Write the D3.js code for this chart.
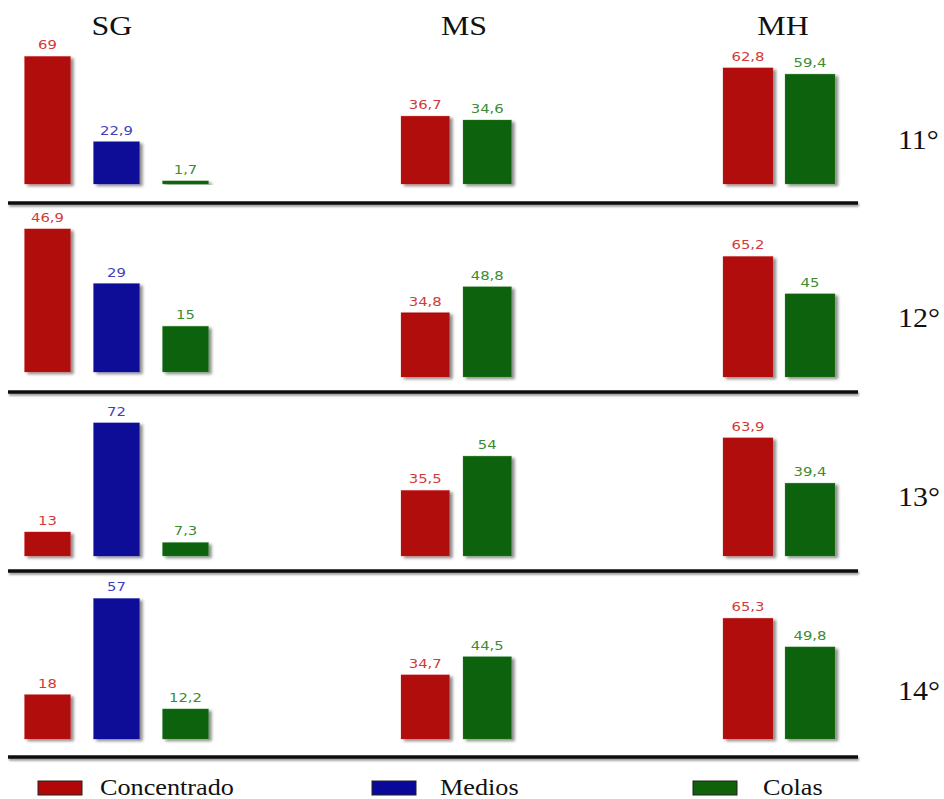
<!DOCTYPE html>
<html>
<head>
<meta charset="utf-8">
<script src="https://cdn.jsdelivr.net/npm/d3@7/dist/d3.min.js"></script>
<style>
  html, body { margin: 0; padding: 0; background: #fff; }
  svg { display: block; }
</style>
</head>
<body>
<svg id="chart" width="944" height="799"></svg>
<script>
// Grades (rows) and stream groups (columns)
const grades = ["11°", "12°", "13°", "14°"];
const groups = ["SG", "MS", "MH"];
const seriesNames = ["Concentrado", "Medios", "Colas"];

// Values per group, one entry per grade
const sgConcentrado = [69, 46.9, 13, 18];
const sgMedios      = [22.9, 29, 72, 57];
const sgColas       = [1.7, 15, 7.3, 12.2];
const msConcentrado = [36.7, 34.8, 35.5, 34.7];
const msColas       = [34.6, 48.8, 54, 44.5];
const mhConcentrado = [62.8, 65.2, 63.9, 65.3];
const mhColas       = [59.4, 45, 39.4, 49.8];

// Upper end of each small chart's value axis, per grade
const sgScaleMax = [80, 48.5, 80, 60];
const msScaleMax = [80, 80, 80, 80];
const mhScaleMax = [80, 80, 80, 80];

const colors = { Concentrado: "#b20707", Medios: "#0a0898", Colas: "#0f620a" };
const labelColors = { Concentrado: "#d23a3a", Medios: "#3f3fc0", Colas: "#3d8c34" };

const groupData = {
  SG: { series: { Concentrado: sgConcentrado, Medios: sgMedios, Colas: sgColas }, max: sgScaleMax },
  MS: { series: { Concentrado: msConcentrado, Colas: msColas }, max: msScaleMax },
  MH: { series: { Concentrado: mhConcentrado, Colas: mhColas }, max: mhScaleMax }
};

const svg = d3.select("#chart");

// Soft shadow used under bars and rules
const defs = svg.append("defs");
const shadow = defs.append("filter").attr("id", "shadow")
  .attr("x", "-20%").attr("y", "-20%").attr("width", "150%").attr("height", "150%");
shadow.append("feDropShadow").attr("dx", 3).attr("dy", 2).attr("stdDeviation", 1.6)
  .attr("flood-color", "#000").attr("flood-opacity", 0.45);
const ruleShadow = defs.append("filter").attr("id", "ruleShadow")
  .attr("x", "-5%").attr("y", "-100%").attr("width", "110%").attr("height", "400%");
ruleShadow.append("feDropShadow").attr("dx", 1).attr("dy", 2).attr("stdDeviation", 1.2)
  .attr("flood-color", "#000").attr("flood-opacity", 0.4);

// Layout
const plotHeight = 148;
const rowBase = [184, 377, 556, 739];
const baseShift = { SG: [0, -5, 0, 0], MS: [0, 0, 0, 0], MH: [0, 0, 0, 0] };
const ruleY = [203, 392, 571, 757];
const groupRange = { SG: [24.5, 208.5], MS: [401, 511.5], MH: [723, 835] };
const groupPadding = { SG: 0.333, MS: 0.218, MH: 0.194 };
const titleX = { SG: 112, MS: 464, MH: 783 };
const serif = "'Liberation Serif', 'Times New Roman', serif";
const sans = "Verdana, 'DejaVu Sans', sans-serif";
const stretch = 1.14;   // text is set slightly wide
const fmt = v => String(v).replace(".", ",");

// Column titles
svg.selectAll("text.group-title").data(groups).join("text")
  .attr("class", "group-title")
  .attr("transform", g => `translate(${titleX[g]},35) scale(${stretch},1)`)
  .attr("text-anchor", "middle")
  .attr("font-family", serif).attr("font-size", 28)
  .attr("fill", "#111")
  .text(g => g);

grades.forEach((grade, r) => {
  groups.forEach(g => {
    const gd = groupData[g];
    const keys = Object.keys(gd.series);
    const base = rowBase[r] + baseShift[g][r];
    const x = d3.scaleBand().domain(keys).range(groupRange[g])
      .paddingInner(groupPadding[g]).paddingOuter(0);
    const y = d3.scaleLinear().domain([0, gd.max[r]])
      .range([base, base - plotHeight]);
    const rows = keys.map(k => ({ key: k, value: gd.series[k][r] }));

    const panel = svg.append("g").attr("class", `panel ${g}-${r}`);
    panel.selectAll("rect").data(rows).join("rect")
      .attr("x", d => x(d.key))
      .attr("y", d => y(d.value))
      .attr("width", x.bandwidth())
      .attr("height", d => y(0) - y(d.value))
      .attr("fill", d => colors[d.key])
      .attr("stroke", d => labelColors[d.key])
      .attr("stroke-opacity", 0.35)
      .attr("stroke-width", 0.8)
      .attr("filter", "url(#shadow)");

    panel.selectAll("text").data(rows).join("text")
      .attr("transform", d => `translate(${x(d.key) + x.bandwidth() / 2},${y(d.value) - 7}) scale(${stretch},1)`)
      .attr("text-anchor", "middle")
      .attr("font-family", sans).attr("font-size", 13)
      .attr("fill", d => labelColors[d.key])
      .text(d => fmt(d.value));
  });
});

// Separating rules below each grade
svg.selectAll("rect.rule").data(ruleY).join("rect")
  .attr("class", "rule")
  .attr("x", 8).attr("width", 850)
  .attr("y", d => d - 1.75).attr("height", 3.5)
  .attr("fill", "#0a0a0a")
  .attr("filter", "url(#ruleShadow)");

// Grade labels on the right
const gradeLabelY = [149, 327, 506, 700];
svg.selectAll("text.grade").data(grades).join("text")
  .attr("class", "grade")
  .attr("transform", (d, i) => `translate(898,${gradeLabelY[i]}) scale(1.07,1)`)
  .attr("font-family", serif).attr("font-size", 28)
  .attr("fill", "#111")
  .text(d => d);

// Legend
const legendX = { Concentrado: 38, Medios: 372, Colas: 693 };
const legendTextDx = { Concentrado: 62, Medios: 68, Colas: 70 };
const legend = svg.append("g").attr("class", "legend");
const items = legend.selectAll("g").data(seriesNames).join("g")
  .attr("transform", d => `translate(${legendX[d]},781)`);
items.append("rect")
  .attr("width", 44).attr("height", 14)
  .attr("fill", d => colors[d])
  .attr("stroke", "#222").attr("stroke-width", 1);
items.append("text")
  .attr("transform", d => `translate(${legendTextDx[d]},14) scale(${stretch},1)`)
  .attr("font-family", serif).attr("font-size", 23)
  .attr("fill", "#111")
  .text(d => d);
</script>
</body>
</html>
